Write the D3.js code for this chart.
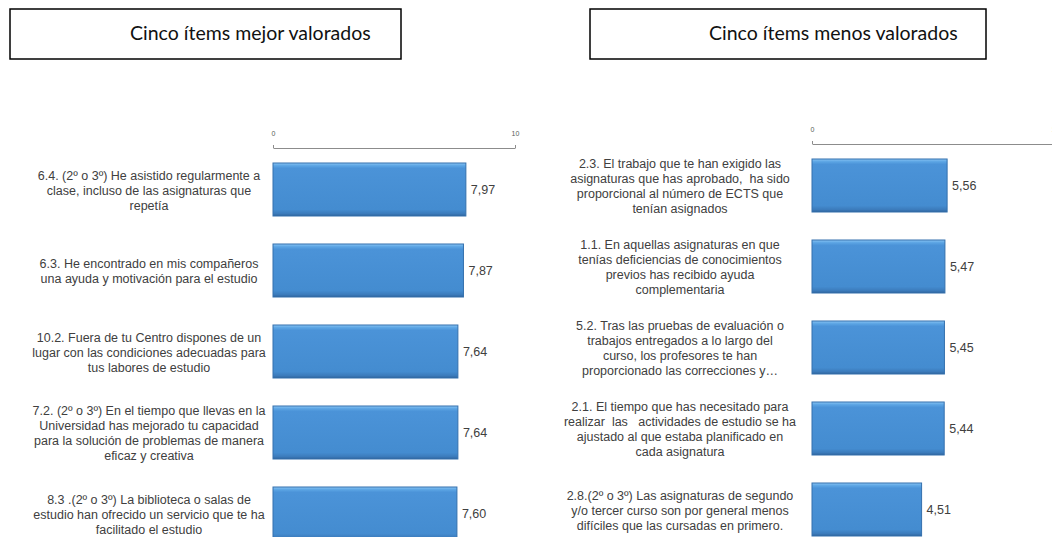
<!DOCTYPE html>
<html><head><meta charset="utf-8">
<script src="https://cdn.jsdelivr.net/npm/d3@7"></script>
<style>
html,body{margin:0;padding:0;background:#fff;}
svg{display:block;}
</style></head>
<body>
<svg id="chart" width="1052" height="537"></svg>
<script>
const titles = ["Cinco ítems mejor valorados", "Cinco ítems menos valorados"];
const tickValues = [0, 10];
const bestLabels = [
  ["6.4. (2º o 3º) He asistido regularmente a", "clase, incluso de las asignaturas que", "repetía"],
  ["6.3. He encontrado en mis compañeros", "una ayuda y motivación para el estudio"],
  ["10.2. Fuera de tu Centro dispones de un", "lugar con las condiciones adecuadas para", "tus labores de estudio"],
  ["7.2. (2º o 3º) En el tiempo que llevas en la", "Universidad has mejorado tu capacidad", "para la solución de problemas de manera", "eficaz y creativa"],
  ["8.3 .(2º o 3º) La biblioteca o salas de", "estudio han ofrecido un servicio que te ha", "facilitado el estudio"]
];
const bestValues = [7.97, 7.87, 7.64, 7.64, 7.60];
const worstLabels = [
  ["2.3. El trabajo que te han exigido las", "asignaturas que has aprobado,  ha sido", "proporcional al número de ECTS que", "tenían asignados"],
  ["1.1. En aquellas asignaturas en que", "tenías deficiencias de conocimientos", "previos has recibido ayuda", "complementaria"],
  ["5.2. Tras las pruebas de evaluación o", "trabajos entregados a lo largo del", "curso, los profesores te han", "proporcionado las correcciones y…"],
  ["2.1. El tiempo que has necesitado para", "realizar  las   actividades de estudio se ha", "ajustado al que estaba planificado en", "cada asignatura"],
  ["2.8.(2º o 3º) Las asignaturas de segundo", "y/o tercer curso son por general menos", "difíciles que las cursadas en primero."]
];
const worstValues = [5.56, 5.47, 5.45, 5.44, 4.51];

const svg = d3.select("#chart");
const defs = svg.append("defs");
const grad = defs.append("linearGradient").attr("id","barGrad").attr("x1",0).attr("y1",0).attr("x2",0).attr("y2",1);
[["0%","#8ac5f4"],["5%","#5ca5e4"],["10%","#4b93d8"],["88%","#448cd0"],["96%","#3b7aba"],["100%","#2e629a"]]
  .forEach(([o,c])=>grad.append("stop").attr("offset",o).attr("stop-color",c));

const fmt = v => d3.format(".2f")(v).replace(".", ",");

function panel(cfg){
  const g = svg.append("g");
  g.append("rect").attr("x",cfg.box[0]).attr("y",cfg.box[1]).attr("width",cfg.box[2]).attr("height",cfg.box[3])
    .attr("fill","#fff").attr("stroke","#000").attr("stroke-width",1.5);
  g.append("text").attr("x",cfg.titleX).attr("y",40).text(cfg.title)
    .attr("font-family","Lato, 'Open Sans', sans-serif").attr("font-size",19.5).attr("fill","#111");

  const x = d3.scaleLinear().domain([0,10]).range(cfg.xRange);
  const ids = cfg.labels.map((d,i)=>i);
  const y = d3.scaleBand().domain(ids).range([cfg.yStart, cfg.yStart + 405])
    .paddingInner(28/81).paddingOuter(14/81);

  const axis = d3.axisTop(x).tickValues(tickValues).tickSize(3).tickSizeOuter(0).tickPadding(9)
    .tickFormat(d3.format("d"));
  const ag = g.append("g").attr("transform",`translate(0,${cfg.axisY})`).call(axis);
  ag.select(".domain").attr("stroke","#8c8c8c");
  ag.selectAll(".tick line").attr("stroke","#8c8c8c");
  ag.selectAll(".tick text").attr("font-family","Liberation Sans, Arial, sans-serif").attr("font-size",7).attr("fill","#595959");

  g.selectAll("rect.bar").data(cfg.values).join("rect").attr("class","bar")
    .attr("x",x(0)).attr("y",(d,i)=>y(i)).attr("width",d=>x(d)-x(0)).attr("height",y.bandwidth())
    .attr("fill","url(#barGrad)").attr("stroke","#3470ad").attr("stroke-width",1);

  g.selectAll("text.val").data(cfg.values).join("text").attr("class","val")
    .attr("x",d=>x(d)+5).attr("y",(d,i)=>y(i)+y.bandwidth()/2).attr("dy","0.35em")
    .attr("font-family","Liberation Sans, Arial, sans-serif").attr("font-size",12.5).attr("fill","#404040")
    .text(fmt);

  const lh = 15;
  const lg = g.selectAll("text.lab").data(cfg.labels).join("text").attr("class","lab")
    .attr("text-anchor","middle").attr("font-family","Liberation Sans, Arial, sans-serif")
    .attr("font-size",12.5).attr("fill","#404040").style("white-space","pre");
  lg.each(function(lines,i){
    const cy = y(i)+y.bandwidth()/2 + cfg.labelShift;
    const t = d3.select(this);
    lines.forEach((ln,k)=>{
      t.append("tspan").attr("x",cfg.labelX).attr("y", cy + (k-(lines.length-1)/2)*lh).attr("dy","0.35em").text(ln);
    });
  });
}

panel({title:titles[0], box:[10,9,391,50], titleX:130, xRange:[273,515], axisY:148, yStart:149,
  labels:bestLabels, values:bestValues, labelX:149, labelShift:1});
panel({title:titles[1], box:[590,9,396,50], titleX:709, xRange:[812,1055], axisY:144, yStart:145,
  labels:worstLabels, values:worstValues, labelX:680, labelShift:1});
</script>
</body></html>
